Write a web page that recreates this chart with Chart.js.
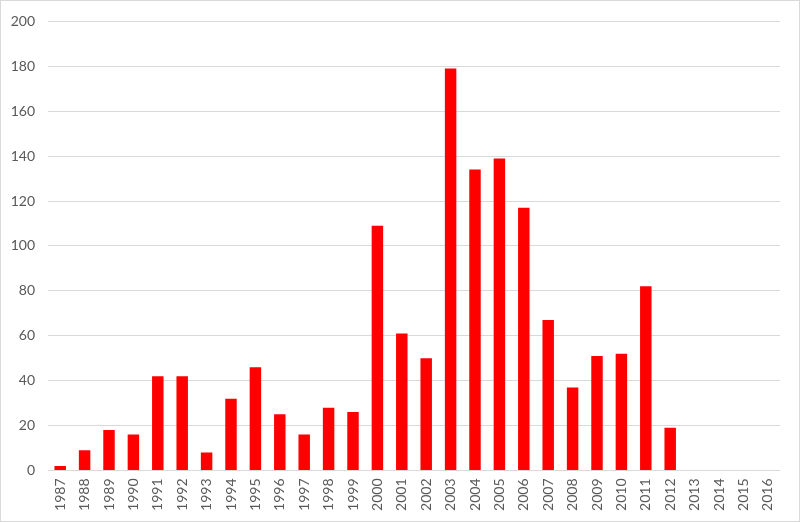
<!DOCTYPE html>
<html>
<head>
<meta charset="utf-8">
<script src="https://cdn.jsdelivr.net/npm/chart.js@4/dist/chart.umd.min.js"></script>
<style>
  html, body { margin: 0; padding: 0; background: #fff; }
  #wrap { width: 800px; height: 522px; position: relative; }
</style>
</head>
<body>
<div id="wrap"><canvas id="c" width="800" height="522"></canvas></div>
<script>
const years = ["1987","1988","1989","1990","1991","1992","1993","1994","1995","1996",
  "1997","1998","1999","2000","2001","2002","2003","2004","2005","2006",
  "2007","2008","2009","2010","2011","2012","2013","2014","2015","2016"];
const counts = [2, 9, 18, 16, 42, 42, 8, 32, 46, 25,
  16, 28, 26, 109, 61, 50, 179, 134, 139, 117,
  67, 37, 51, 52, 82, 19, 0, 0, 0, 0];
const yTicks = [0, 20, 40, 60, 80, 100, 120, 140, 160, 180, 200];

const borderPlugin = {
  id: 'outerBorder',
  afterDraw(chart) {
    const ctx = chart.ctx;
    ctx.save();
    ctx.strokeStyle = '#d9d9d9';
    ctx.lineWidth = 1;
    ctx.strokeRect(0.5, 0.5, chart.width - 1, chart.height - 1);
    ctx.restore();
  }
};

new Chart(document.getElementById('c'), {
  type: 'bar',
  data: {
    labels: years,
    datasets: [{
      data: counts,
      backgroundColor: '#ff0000',
      borderWidth: 0,
      barPercentage: 0.47,
      categoryPercentage: 1.0
    }]
  },
  options: {
    responsive: false,
    animation: false,
    devicePixelRatio: 1,
    layout: { padding: { top: 17, right: 20, left: 0, bottom: 0 } },
    plugins: { legend: { display: false }, tooltip: { enabled: false } },
    scales: {
      x: {
        grid: { display: false, drawTicks: false },
        border: { display: false },
        ticks: {
          color: '#595959',
          font: { family: 'Lato', size: 14 },
          minRotation: 90, maxRotation: 90,
          padding: 8,
          autoSkip: false
        },
        afterFit(scale) { scale.height = 51.5; }
      },
      y: {
        min: 0, max: 200,
        afterBuildTicks(scale) { scale.ticks = yTicks.map(v => ({ value: v })); },
        grid: { color: '#d9d9d9', lineWidth: 1, drawTicks: false },
        border: { display: false },
        ticks: {
          color: '#595959',
          font: { family: 'Lato', size: 14 },
          padding: 13
        },
        afterFit(scale) { scale.width = 48; }
      }
    }
  },
  plugins: [borderPlugin]
});
</script>
</body>
</html>
